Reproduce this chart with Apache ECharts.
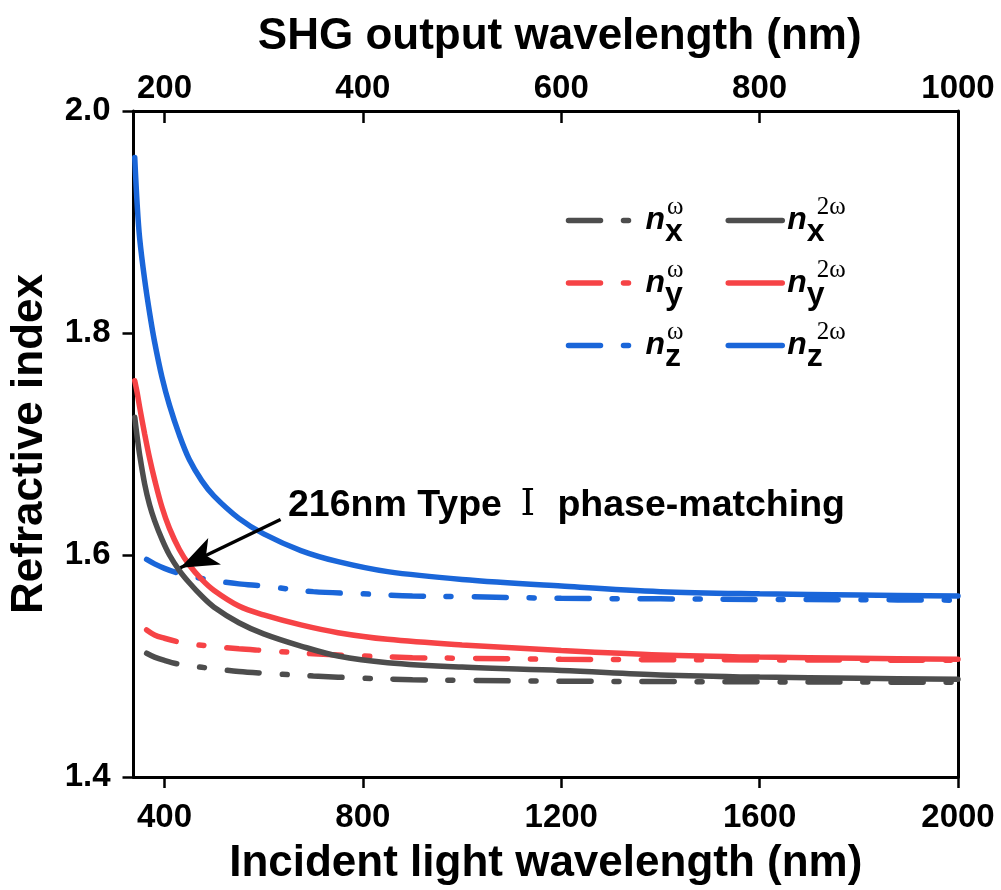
<!DOCTYPE html>
<html>
<head>
<meta charset="utf-8">
<script src="https://cdn.jsdelivr.net/npm/echarts@6/dist/echarts.min.js"></script>
<style>
  html, body { margin: 0; padding: 0; background: #fff; }
  #main { width: 1001px; height: 890px; }
</style>
</head>
<body>
<div id="main"></div>
<script>
// tick labels
var incidentTicks = [400, 800, 1200, 1600, 2000];
var shgTicks = [200, 400, 600, 800, 1000];

// 2ω curves, read against incident wavelength (nm)
var wl2w = [340, 345, 350, 360, 370, 380, 395, 410, 430, 450, 475, 500, 550, 600, 675, 750, 850, 1000, 1200, 1400, 1600, 1800, 2000];
var nx2w = [1.724, 1.706, 1.690, 1.664, 1.645, 1.631, 1.614, 1.600, 1.586, 1.575, 1.563, 1.553, 1.539, 1.529, 1.518, 1.509, 1.503, 1.499, 1.496, 1.492, 1.490, 1.489, 1.488];
var ny2w = [1.757, 1.746, 1.733, 1.709, 1.687, 1.668, 1.643, 1.624, 1.605, 1.591, 1.578, 1.568, 1.554, 1.546, 1.537, 1.530, 1.524, 1.519, 1.514, 1.510, 1.508, 1.507, 1.506];
var nz2w = [1.958, 1.915, 1.885, 1.848, 1.818, 1.792, 1.760, 1.735, 1.708, 1.686, 1.667, 1.653, 1.633, 1.619, 1.604, 1.594, 1.585, 1.578, 1.572, 1.567, 1.565, 1.564, 1.563];

// ω curves
var wl1w = [364, 380, 400, 425, 450, 500, 550, 600, 700, 800, 900, 1000, 1200, 1400, 1600, 1800, 2000];
var nx1w = [1.5115, 1.508, 1.505, 1.502, 1.5003, 1.4975, 1.495, 1.4935, 1.491, 1.489, 1.4877, 1.487, 1.4863, 1.486, 1.4857, 1.4855, 1.4854];
var ny1w = [1.5325, 1.528, 1.525, 1.522, 1.520, 1.5175, 1.5155, 1.514, 1.511, 1.509, 1.5075, 1.507, 1.506, 1.5057, 1.5055, 1.5053, 1.5052];
var nz1w = [1.596, 1.592, 1.588, 1.584, 1.581, 1.577, 1.574, 1.572, 1.567, 1.565, 1.563, 1.5625, 1.561, 1.5605, 1.560, 1.5597, 1.5593];

// annotation (data coords)
var arrowFrom = [634, 1.632];
var arrowTo = [432, 1.5885];
var notePos = [648, 1.6446];

var colors = { x: '#4d4d4d', y: '#f64346', z: '#1a66d9' };
var dashDot = [32, 23, 5, 23];
var font = "'Liberation Sans', Arial, sans-serif";

function pairs(xs, ys) {
  return xs.map(function (x, i) { return [x, ys[i]]; });
}

function curve(name, xs, ys, color, dashed) {
  return {
    name: name,
    type: 'line',
    data: pairs(xs, ys),
    smooth: 0.35,
    symbol: 'none',
    lineStyle: {
      color: color,
      width: 5.5,
      type: dashed ? dashDot : 'solid',
      cap: 'round'
    },
    itemStyle: { color: color },
    z: dashed ? 2 : 3
  };
}

var series = [
  curve('nxω', wl1w, nx1w, colors.x, true),
  curve('nyω', wl1w, ny1w, colors.y, true),
  curve('nzω', wl1w, nz1w, colors.z, true),
  curve('nx2ω', wl2w, nx2w, colors.x, false),
  curve('ny2ω', wl2w, ny2w, colors.y, false),
  curve('nz2ω', wl2w, nz2w, colors.z, false)
];

// arrow + text for the phase-matching point
series[5].markLine = {
  silent: true,
  animation: false,
  symbol: ['none', 'arrow'],
  symbolSize: [22, 38],
  lineStyle: { color: '#000', width: 3.5, type: 'solid' },
  label: { show: false },
  data: [[{ coord: arrowFrom }, { coord: arrowTo }]]
};
series[5].markPoint = {
  silent: true,
  symbol: 'circle',
  symbolSize: 1,
  itemStyle: { color: 'rgba(0,0,0,0)' },
  label: {
    show: true,
    position: 'right',
    distance: 0,
    color: '#000',
    fontFamily: font,
    fontWeight: 'bold',
    fontSize: 37.5,
    formatter: '216nm Type {r|Ⅰ} phase-matching',
    rich: {
      r: {
        fontFamily: "'DejaVu Serif', 'Liberation Serif', serif",
        fontWeight: 'normal',
        fontSize: 37,
        color: '#000',
        padding: [0, 12, 0, 8]
      }
    }
  },
  data: [{ coord: notePos }]
};

var legendRich = {
  n: { fontFamily: font, fontSize: 32, fontWeight: 'bold', fontStyle: 'italic', color: '#000' },
  sub1: { fontFamily: font, fontSize: 32, fontWeight: 'bold', color: '#000', width: 2, padding: [24, 0, 0, 0] },
  sub2: { fontFamily: font, fontSize: 32, fontWeight: 'bold', color: '#000', width: 10, padding: [24, 0, 0, 0] },
  sup: { fontFamily: "'Liberation Serif', 'Times New Roman', serif", fontSize: 25, color: '#000', padding: [0, 0, 26, 0] }
};

function legendLabel(name) {
  var c = name.charAt(1);
  var s = name.slice(2);
  return '{n|n}{' + (s.length > 1 ? 'sub2' : 'sub1') + '|' + c + '}{sup|' + s + '}';
}

function legendCol(names, left, width) {
  return {
    orient: 'vertical',
    left: left,
    top: 195,
    padding: 0,
    itemWidth: width,
    itemHeight: 14,
    itemGap: 9,
    selectedMode: false,
    data: names,
    formatter: legendLabel,
    itemStyle: { opacity: 0, borderWidth: 0 },
    lineStyle: { width: 5.5 },
    textStyle: { rich: legendRich }
  };
}

function plain(v) { return String(v); }

var axisLine = { show: true, onZero: false, lineStyle: { color: '#000', width: 3 } };
var labelStyle = { color: '#000', fontFamily: font, fontWeight: 'bold', fontSize: 33 };
var nameStyle = { color: '#000', fontFamily: font, fontWeight: 'bold', fontSize: 44 };

var option = {
  backgroundColor: '#fff',
  animation: false,
  grid: { left: 133.5, right: 43, top: 111, bottom: 113, outerBoundsMode: 'none' },
  legend: [
    legendCol(['nxω', 'nyω', 'nzω'], 565.75, 72),
    legendCol(['nx2ω', 'ny2ω', 'nz2ω'], 725.5, 54)
  ],
  xAxis: [
    {
      type: 'value',
      position: 'bottom',
      min: 337.5,
      max: 2000,
      name: 'Incident light wavelength (nm)',
      nameLocation: 'middle',
      nameGap: 65,
      nameTextStyle: nameStyle,
      axisLine: axisLine,
      axisTick: { show: true, length: 11, customValues: incidentTicks, lineStyle: { color: '#000', width: 2.5 } },
      axisLabel: Object.assign({ margin: 24, customValues: incidentTicks, formatter: plain }, labelStyle),
      splitLine: { show: false }
    },
    {
      type: 'value',
      position: 'top',
      min: 168.75,
      max: 1000,
      name: 'SHG output wavelength (nm)',
      nameLocation: 'middle',
      nameGap: 52,
      nameTextStyle: Object.assign({ padding: [0, 0, 0, 28] }, nameStyle),
      axisLine: axisLine,
      axisTick: { show: true, inside: true, length: 12, customValues: shgTicks, lineStyle: { color: '#000', width: 2.5 } },
      axisLabel: Object.assign({ margin: 6, customValues: shgTicks, formatter: plain }, labelStyle),
      splitLine: { show: false }
    }
  ],
  yAxis: [
    {
      type: 'value',
      min: 1.4,
      max: 2.0,
      interval: 0.2,
      name: 'Refractive index',
      nameLocation: 'middle',
      nameGap: 82,
      nameTextStyle: nameStyle,
      axisLine: axisLine,
      axisTick: { show: true, length: 11, lineStyle: { color: '#000', width: 2.5 } },
      axisLabel: Object.assign({
        margin: 23,
        formatter: function (v) { return v.toFixed(1); }
      }, labelStyle),
      splitLine: { show: false }
    },
    {
      type: 'value',
      position: 'right',
      min: 1.4,
      max: 2.0,
      axisLine: axisLine,
      axisTick: { show: false },
      axisLabel: { show: false },
      splitLine: { show: false }
    }
  ],
  series: series
};

var chart = echarts.init(document.getElementById('main'));
chart.setOption(option);
</script>
</body>
</html>
